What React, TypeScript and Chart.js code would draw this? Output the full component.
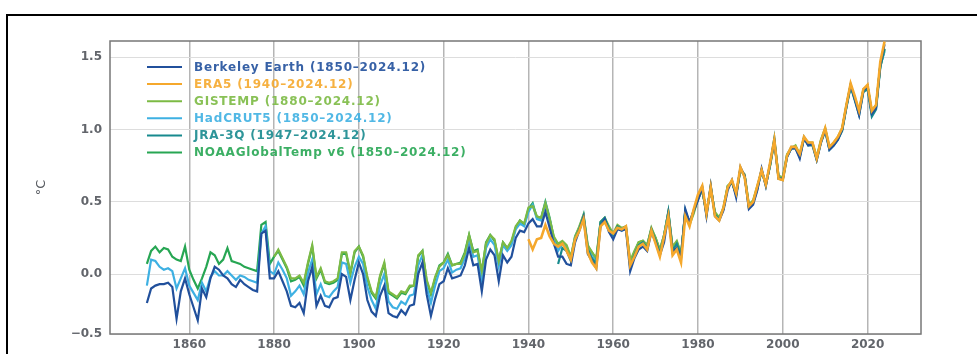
import React, { useEffect, useRef } from "react";
import { Chart, registerables } from "chart.js";

Chart.register(...registerables);

// ---- data (annual anomalies, °C relative to 1850–1900) ----
const berkeleyStart = 1850;
const berkeley = [
  -0.20, -0.10, -0.08, -0.07, -0.07, -0.06, -0.09, -0.31, -0.12, -0.03,
  -0.14, -0.23, -0.32, -0.10, -0.16, -0.03, 0.05, 0.03, -0.01, -0.03,
  -0.07, -0.09, -0.04, -0.07, -0.09, -0.11, -0.12, 0.28, 0.30, -0.03,
  -0.03, 0.02, -0.05, -0.12, -0.22, -0.23, -0.20, -0.27, -0.05, 0.05,
  -0.22, -0.15, -0.22, -0.23, -0.17, -0.16, 0.00, -0.02, -0.18, -0.04,
  0.08, 0.00, -0.18, -0.26, -0.29, -0.15, -0.08, -0.27, -0.29, -0.30,
  -0.25, -0.28, -0.22, -0.21, 0.00, 0.08, -0.14, -0.29, -0.17, -0.07,
  -0.05, 0.04, -0.03, -0.02, -0.01, 0.06, 0.18, 0.06, 0.07, -0.12,
  0.10, 0.17, 0.13, -0.05, 0.13, 0.08, 0.12, 0.25, 0.30, 0.29,
  0.35, 0.38, 0.33, 0.33, 0.43, 0.32, 0.21, 0.12, 0.12, 0.07,
  0.06, 0.22, 0.30, 0.39, 0.14, 0.09, 0.04, 0.33, 0.38, 0.29,
  0.24, 0.31, 0.30, 0.31, 0.02, 0.11, 0.17, 0.19, 0.16, 0.29,
  0.22, 0.13, 0.22, 0.41, 0.15, 0.18, 0.11, 0.45, 0.36, 0.44,
  0.51, 0.60, 0.40, 0.61, 0.40, 0.37, 0.44, 0.58, 0.65, 0.53,
  0.74, 0.68, 0.45, 0.48, 0.58, 0.73, 0.61, 0.76, 0.92, 0.66,
  0.66, 0.81, 0.87, 0.87, 0.80, 0.94, 0.89, 0.90, 0.79, 0.91,
  1.00, 0.86, 0.89, 0.93, 1.00, 1.16, 1.31, 1.21, 1.10, 1.27,
  1.30, 1.11, 1.15, 1.45, 1.59,
];

const era5Start = 1940;
const era5 = [
  0.24, 0.17, 0.24, 0.25, 0.34, 0.26, 0.21, 0.19, 0.21, 0.16,
  0.10, 0.24, 0.30, 0.38, 0.15, 0.08, 0.04, 0.33, 0.36, 0.30,
  0.28, 0.32, 0.31, 0.33, 0.06, 0.12, 0.19, 0.21, 0.17, 0.30,
  0.21, 0.12, 0.26, 0.40, 0.13, 0.17, 0.08, 0.40, 0.33, 0.45,
  0.55, 0.61, 0.42, 0.60, 0.40, 0.37, 0.46, 0.60, 0.65, 0.56,
  0.74, 0.67, 0.47, 0.50, 0.61, 0.72, 0.62, 0.77, 0.93, 0.66,
  0.65, 0.82, 0.88, 0.88, 0.83, 0.95, 0.91, 0.91, 0.80, 0.92,
  1.01, 0.88, 0.91, 0.95, 1.01, 1.17, 1.32, 1.23, 1.13, 1.28,
  1.31, 1.13, 1.17, 1.47, 1.61,
];

const gistempStart = 1880;
const gistemp = [
  0.12, 0.17, 0.11, 0.05, -0.03, -0.03, -0.01, -0.06, 0.08, 0.20,
  -0.02, 0.04, -0.05, -0.06, -0.05, -0.03, 0.15, 0.15, 0.01, 0.16,
  0.19, 0.13, -0.02, -0.12, -0.16, -0.01, 0.08, -0.12, -0.14, -0.16,
  -0.12, -0.13, -0.08, -0.08, 0.13, 0.16, -0.04, -0.13, -0.02, 0.05,
  0.08, 0.13, 0.06, 0.07, 0.07, 0.14, 0.27, 0.15, 0.16, 0.02,
  0.21, 0.27, 0.24, 0.09, 0.22, 0.18, 0.23, 0.33, 0.37, 0.35,
  0.46, 0.47, 0.40, 0.39, 0.49, 0.38, 0.26, 0.21, 0.23, 0.20,
  0.12, 0.26, 0.33, 0.41, 0.20, 0.15, 0.11, 0.36, 0.39, 0.33,
  0.28, 0.34, 0.32, 0.33, 0.09, 0.16, 0.22, 0.23, 0.20, 0.32,
  0.25, 0.17, 0.27, 0.43, 0.19, 0.23, 0.14, 0.42, 0.34, 0.42,
  0.53, 0.58, 0.43, 0.59, 0.43, 0.39, 0.46, 0.61, 0.63, 0.56,
  0.72, 0.69, 0.48, 0.51, 0.61, 0.71, 0.63, 0.75, 0.92, 0.68,
  0.67, 0.83, 0.87, 0.89, 0.83, 0.94, 0.91, 0.91, 0.81, 0.93,
  1.01, 0.88, 0.91, 0.95, 1.01, 1.17, 1.31, 1.22, 1.13, 1.28,
  1.30, 1.13, 1.17, 1.44, 1.56,
];

const hadcrutStart = 1850;
const hadcrut = [
  -0.08, 0.10, 0.09, 0.05, 0.03, 0.04, 0.02, -0.10, -0.03, 0.04,
  -0.08, -0.13, -0.18, -0.06, -0.12, -0.02, 0.02, -0.01, -0.01, 0.02,
  -0.01, -0.04, -0.01, -0.02, -0.04, -0.05, -0.06, 0.28, 0.33, 0.02,
  0.00, 0.08, 0.03, -0.03, -0.15, -0.12, -0.08, -0.14, 0.01, 0.10,
  -0.14, -0.07, -0.15, -0.16, -0.12, -0.09, 0.08, 0.07, -0.06, 0.05,
  0.12, 0.07, -0.09, -0.18, -0.24, -0.08, 0.00, -0.19, -0.23, -0.24,
  -0.19, -0.21, -0.15, -0.14, 0.06, 0.13, -0.09, -0.20, -0.08, 0.02,
  0.04, 0.10, 0.01, 0.03, 0.04, 0.11, 0.24, 0.12, 0.13, -0.04,
  0.18, 0.24, 0.20, 0.05, 0.20, 0.16, 0.20, 0.31, 0.35, 0.33,
  0.43, 0.48, 0.38, 0.37, 0.49, 0.38, 0.24, 0.16, 0.21, 0.19,
  0.11, 0.26, 0.32, 0.41, 0.18, 0.14, 0.09, 0.35, 0.38, 0.31,
  0.27, 0.33, 0.30, 0.32, 0.07, 0.15, 0.21, 0.22, 0.19, 0.31,
  0.24, 0.16, 0.27, 0.43, 0.18, 0.22, 0.13, 0.43, 0.35, 0.44,
  0.52, 0.59, 0.42, 0.60, 0.42, 0.38, 0.45, 0.60, 0.64, 0.55,
  0.73, 0.68, 0.47, 0.50, 0.60, 0.72, 0.62, 0.76, 0.93, 0.67,
  0.66, 0.82, 0.88, 0.88, 0.82, 0.95, 0.90, 0.90, 0.80, 0.92,
  1.00, 0.87, 0.90, 0.94, 1.00, 1.16, 1.31, 1.21, 1.12, 1.27,
  1.30, 1.11, 1.16, 1.44, 1.54,
];

const jraStart = 1947;
const jra = [
  0.07, 0.18, 0.16,
  0.09, 0.24, 0.31, 0.40, 0.17, 0.11, 0.07, 0.36, 0.39, 0.31,
  0.27, 0.33, 0.31, 0.33, 0.05, 0.13, 0.20, 0.22, 0.18, 0.31,
  0.23, 0.14, 0.26, 0.43, 0.16, 0.21, 0.12, 0.44, 0.35, 0.44,
  0.52, 0.60, 0.41, 0.61, 0.41, 0.38, 0.45, 0.60, 0.64, 0.55,
  0.73, 0.68, 0.46, 0.49, 0.59, 0.72, 0.61, 0.76, 0.94, 0.66,
  0.65, 0.81, 0.87, 0.87, 0.81, 0.94, 0.89, 0.89, 0.79, 0.91,
  0.99, 0.86, 0.89, 0.93, 0.99, 1.15, 1.30, 1.20, 1.10, 1.26,
  1.28, 1.09, 1.14, 1.43, 1.56,
];

const noaaStart = 1850;
const noaa = [
  0.07, 0.16, 0.19, 0.15, 0.18, 0.17, 0.12, 0.10, 0.09, 0.19,
  0.03, -0.04, -0.10, -0.03, 0.05, 0.15, 0.13, 0.07, 0.10, 0.18,
  0.09, 0.08, 0.07, 0.05, 0.04, 0.03, 0.02, 0.34, 0.36, 0.07,
  0.12, 0.16, 0.10, 0.04, -0.05, -0.04, -0.02, -0.08, 0.07, 0.19,
  -0.03, 0.03, -0.06, -0.07, -0.06, -0.04, 0.14, 0.14, 0.00, 0.15,
  0.19, 0.12, -0.03, -0.13, -0.17, -0.02, 0.07, -0.13, -0.15, -0.17,
  -0.13, -0.14, -0.09, -0.08, 0.12, 0.16, -0.05, -0.14, -0.03, 0.06,
  0.08, 0.14, 0.06, 0.07, 0.08, 0.15, 0.27, 0.16, 0.17, 0.01,
  0.22, 0.27, 0.23, 0.09, 0.22, 0.18, 0.22, 0.32, 0.37, 0.34,
  0.45, 0.49, 0.39, 0.39, 0.50, 0.39, 0.25, 0.20, 0.22, 0.19,
  0.11, 0.25, 0.32, 0.40, 0.19, 0.15, 0.10, 0.35, 0.38, 0.32,
  0.28, 0.33, 0.31, 0.32, 0.08, 0.15, 0.22, 0.23, 0.20, 0.31,
  0.25, 0.16, 0.27, 0.42, 0.18, 0.22, 0.14, 0.43, 0.35, 0.43,
  0.52, 0.58, 0.42, 0.60, 0.42, 0.39, 0.45, 0.61, 0.64, 0.55,
  0.72, 0.68, 0.47, 0.50, 0.60, 0.71, 0.62, 0.75, 0.92, 0.67,
  0.66, 0.82, 0.87, 0.88, 0.82, 0.94, 0.90, 0.90, 0.80, 0.92,
  1.00, 0.87, 0.90, 0.94, 1.00, 1.16, 1.30, 1.21, 1.12, 1.27,
  1.30, 1.11, 1.16, 1.44, 1.55,
];

const seriesLabels = [
  "Berkeley Earth (1850–2024.12)",
  "ERA5 (1940–2024.12)",
  "GISTEMP (1880–2024.12)",
  "HadCRUT5 (1850–2024.12)",
  "JRA-3Q (1947–2024.12)",
  "NOAAGlobalTemp v6 (1850–2024.12)",
];
const seriesValues = [berkeley, era5, gistemp, hadcrut, jra, noaa];
const seriesStarts = [berkeleyStart, era5Start, gistempStart, hadcrutStart, jraStart, noaaStart];
const seriesColors = ["#21509c", "#f5a82c", "#7cba44", "#3eb0e2", "#178a8e", "#27a653"];
const seriesOrder = [1, 0, 3, 4, 2, 5];
const seriesWidths = [2.2, 2.6, 2.2, 2.2, 2.2, 2.2];

const xTickValues = [1860, 1880, 1900, 1920, 1940, 1960, 1980, 2000, 2020];
const xTickLabels = ["1860", "1880", "1900", "1920", "1940", "1960", "1980", "2000", "2020"];
const yMin = -0.415;
const yMax = 1.613;
const yTickValues = [yMin, 0, 0.5, 1.0, 1.5];
const yTickLabels = ["−0.5", "0.0", "0.5", "1.0", "1.5"];
const yTitle = "°C";

const tickFont = { family: "'DejaVu Sans', sans-serif", size: 12, weight: "bold" as const };

const framePlugin = {
  id: "frameAndLegend",
  beforeDatasetsDraw(chart: any) {
    const { ctx, chartArea } = chart;
    ctx.save();
    ctx.strokeStyle = "#777777";
    ctx.lineWidth = 1.5;
    ctx.strokeRect(chartArea.left, chartArea.top, chartArea.right - chartArea.left, chartArea.bottom - chartArea.top);
    ctx.restore();
  },
  afterDatasetsDraw(chart: any) {
    const { ctx, chartArea } = chart;
    ctx.save();
    ctx.font = "bold 12px 'DejaVu Sans', sans-serif";
    ctx.textBaseline = "middle";
    ctx.textAlign = "left";
    (ctx as any).letterSpacing = "0.8px";
    chart.data.datasets.forEach((ds: any, i: number) => {
      const y = chartArea.top + 26 + i * 17.1;
      ctx.strokeStyle = ds.borderColor;
      ctx.lineWidth = 2;
      ctx.beginPath();
      ctx.moveTo(chartArea.left + 37, y);
      ctx.lineTo(chartArea.left + 72, y);
      ctx.stroke();
      ctx.globalAlpha = 0.9;
      ctx.fillStyle = ds.borderColor;
      ctx.fillText(ds.label, chartArea.left + 84, y + 0.5);
      ctx.globalAlpha = 1;
    });
    ctx.restore();
  },
};

export default function App() {
  const ref = useRef<HTMLCanvasElement>(null);

  useEffect(() => {
    if (!ref.current) return;
    const datasets = seriesLabels.map((label, s) => ({
      label,
      data: seriesValues[s].map((v, i) => ({ x: seriesStarts[s] + i, y: v })),
      borderColor: seriesColors[s],
      backgroundColor: seriesColors[s],
      borderWidth: seriesWidths[s],
      pointRadius: 0,
      tension: 0,
      fill: false,
      order: seriesOrder[s],
    }));

    const chart = new Chart(ref.current, {
      type: "line",
      data: { datasets },
      options: {
        animation: false,
        responsive: false,
        devicePixelRatio: 1,
        events: [],
        layout: { padding: { left: 30, top: 41, right: 56, bottom: 0 } },
        plugins: { legend: { display: false }, tooltip: { enabled: false } },
        scales: {
          x: {
            type: "linear",
            min: 1841.3,
            max: 2032.6,
            afterBuildTicks: (scale: any) => {
              scale.ticks = xTickValues.map((v) => ({ value: v }));
            },
            afterFit: (scale: any) => {
              scale.height = 20;
            },
            grid: { color: "#b5b5b5", lineWidth: 1.5, drawTicks: false },
            border: { display: false },
            ticks: {
              padding: 4,
              autoSkip: false,
              maxRotation: 0,
              color: "#62656b",
              font: tickFont,
              callback: (_v: any, i: number) => xTickLabels[i],
            },
          },
          y: {
            type: "linear",
            min: yMin,
            max: yMax,
            afterBuildTicks: (scale: any) => {
              scale.ticks = yTickValues.map((v) => ({ value: v }));
            },
            afterFit: (scale: any) => {
              scale.width = 80;
            },
            title: {
              display: true,
              text: yTitle,
              color: "#55585e",
              font: { family: "'DejaVu Sans', sans-serif", size: 13 },
              padding: { top: 4, bottom: 4 },
            },
            grid: { color: "#dddddd", lineWidth: 1, drawTicks: false },
            border: { display: false },
            ticks: {
              padding: 8,
              color: "#62656b",
              font: tickFont,
              callback: (_v: any, i: number) => yTickLabels[i],
            },
          },
        },
      },
      plugins: [framePlugin],
    } as any);

    return () => chart.destroy();
  }, []);

  return (
    <div
      style={{
        position: "fixed",
        left: 0,
        top: 0,
        width: 977,
        height: 354,
        overflow: "hidden",
        background: "#ffffff",
      }}
    >
      <div
        style={{
          position: "absolute",
          left: 6,
          top: 14,
          width: 1100,
          height: 500,
          border: "2px solid #000000",
          boxSizing: "border-box",
        }}
      />
      <canvas
        ref={ref}
        width={977}
        height={354}
        style={{ position: "absolute", left: 0, top: 0, width: 977, height: 354 }}
      />
    </div>
  );
}
